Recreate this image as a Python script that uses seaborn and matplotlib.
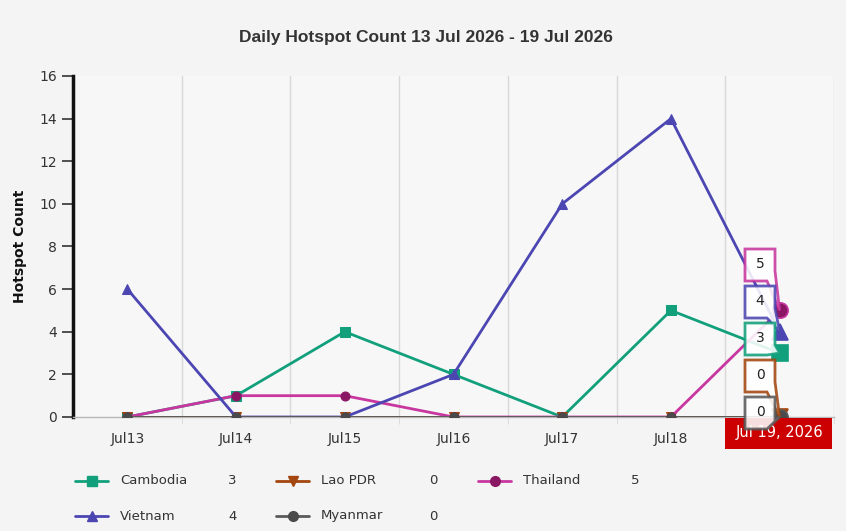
import numpy as np
import pandas as pd
import seaborn as sns
import matplotlib.pyplot as plt
from matplotlib.patches import Polygon, Rectangle
from matplotlib.lines import Line2D
import matplotlib.transforms as mtransforms

days = ["Jul13", "Jul14", "Jul15", "Jul16", "Jul17", "Jul18", "Jul19"]
cambodia = [0, 1, 4, 2, 0, 5, 3]
lao = [0, 0, 0, 0, 0, 0, 0]
thailand = [0, 1, 1, 0, 0, 0, 5]
vietnam = [6, 0, 0, 2, 10, 14, 4]
myanmar = [0, 0, 0, 0, 0, 0, 0]

countries = ["Cambodia", "Lao PDR", "Thailand", "Vietnam", "Myanmar"]
series = {"Cambodia": cambodia, "Lao PDR": lao, "Thailand": thailand,
          "Vietnam": vietnam, "Myanmar": myanmar}

# line colour, marker, marker fill
styles = {
    "Cambodia": ("#12a07c", "s", "#12a07c"),
    "Lao PDR": ("#a3460f", "v", "#a3460f"),
    "Thailand": ("#c8369f", "o", "#8a1763"),
    "Vietnam": ("#4c46b2", "^", "#4c46b2"),
    "Myanmar": ("#5a5a5a", "o", "#4a4a4a"),
}

rows = []
for c in countries:
    for i, v in enumerate(series[c]):
        rows.append({"country": c, "day": i, "count": v})
df = pd.DataFrame(rows)

sns.set_style("white")
plt.rcParams["font.family"] = ["DejaVu Sans"]

W, H = 846, 531
fig = plt.figure(figsize=(W / 100, H / 100), dpi=100, facecolor="#f4f4f4")
ax = fig.add_axes([73 / W, 114 / H, (834 - 73) / W, (417 - 76) / H])
ax.set_facecolor("#f7f7f7")

for c in countries:
    col, mk, fc = styles[c]
    sub = df[df["country"] == c]
    sns.lineplot(data=sub, x="day", y="count", ax=ax, color=col, marker=mk,
                 markersize=6.5, markerfacecolor=fc, markeredgecolor=fc,
                 linewidth=2, legend=False, zorder=3)

ax.set_xlim(-0.5, 6.5)
ax.set_ylim(0, 16)
ax.set_xticks(range(len(days)))
ax.set_xticklabels(days, fontsize=10, color="#333333")
ax.set_xticks(np.arange(0.5, 7, 1), minor=True)
ax.set_yticks(range(0, 17, 2))
ax.tick_params(axis="y", labelsize=10, labelcolor="#333333", length=8,
               width=1.2, color="#333333", direction="out", left=True)
ax.tick_params(axis="x", which="major", length=0, pad=11)
ax.tick_params(axis="x", which="minor", length=5, color="#d8d8d8", bottom=True)
ax.grid(which="minor", axis="x", color="#d8d8d8", linewidth=1)
ax.set_xlabel("")
ax.set_ylabel("Hotspot Count", fontsize=10, fontweight="bold", color="#111111",
              labelpad=9)
for s in ["top", "right"]:
    ax.spines[s].set_visible(False)
ax.spines["left"].set_color("#111111")
ax.spines["left"].set_linewidth(2.5)
ax.spines["bottom"].set_color("#b8b8b8")
ax.spines["bottom"].set_linewidth(1)

fig.text(426 / W, 1 - 37 / H, "Daily Hotspot Count 13 Jul 2026 - 19 Jul 2026",
         ha="center", va="center", fontsize=12.5, fontweight="bold",
         color="#333333", family=["Liberation Sans", "DejaVu Sans"])

# hover state: enlarged last points
last = len(days) - 1
for c in countries:
    col, mk, fc = styles[c]
    ax.plot([last], [series[c][last]], marker=mk, markersize=11,
            markerfacecolor=fc, markeredgecolor=col, markeredgewidth=1.2,
            linestyle="none", zorder=5, clip_on=False)

# tooltips, sorted by value
fig.canvas.draw()
to_fig = fig.transFigure.inverted()
order = sorted(countries, key=lambda c: -series[c][last])
box_top = 249
for k, c in enumerate(order):
    col = styles[c][0]
    v = series[c][last]
    px, py = ax.transData.transform((last, v))
    py = H - py
    x0, x1 = 745, 775
    y0 = box_top + k * 37
    y1 = y0 + 32
    pts = [(x0, y0), (x1, y0), (x1, y1 - 10), (px, py), (x1 - 8, y1), (x0, y1)]
    pts = [to_fig.transform((x, H - y)) for x, y in pts]
    fig.patches.append(Polygon(pts, closed=True, transform=fig.transFigure,
                               facecolor="white", alpha=0.88, edgecolor=col,
                               linewidth=2, zorder=10))
    fig.text((x0 + x1) / 2 / W, 1 - (y0 + 15) / H, str(v), ha="center",
             va="center", fontsize=10, color="#222222", zorder=11)

# crosshair date label
blend = mtransforms.blended_transform_factory(ax.transData, ax.transAxes)
ax.add_patch(Rectangle((5.5, -32 / 341), 0.985, 31 / 341, transform=blend,
                       facecolor="#cc0000", edgecolor="none", clip_on=False,
                       zorder=9))
ax.text(last, -16 / 341, "Jul 19, 2026", transform=blend, ha="center",
        va="center", color="white", fontsize=10.5, zorder=12)

# legend with values
legend_pos = [(75, 481), (276, 481), (478, 481), (75, 516), (276, 516)]
for c, (lx, ly) in zip(countries, legend_pos):
    col, mk, fc = styles[c]
    yf = 1 - ly / H
    fig.lines.append(Line2D([lx / W, (lx + 33) / W], [yf, yf], color=col,
                            linewidth=2, transform=fig.transFigure))
    fig.lines.append(Line2D([(lx + 16.5) / W], [yf], marker=mk, markersize=7,
                            markerfacecolor=fc, markeredgecolor=fc,
                            transform=fig.transFigure))
    fig.text((lx + 45) / W, yf, c, ha="left", va="center", fontsize=9.5,
             color="#333333")
    fig.text((lx + 153) / W, yf, str(series[c][last]), ha="left",
             va="center", fontsize=9.5, color="#333333")

fig.savefig("out.png", dpi=100, facecolor=fig.get_facecolor())
